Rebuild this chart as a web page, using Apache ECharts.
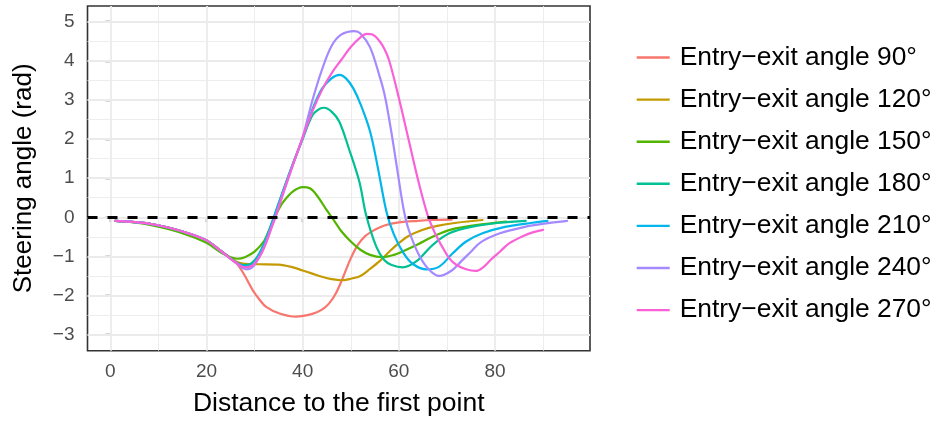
<!DOCTYPE html>
<html><head><meta charset="utf-8">
<script src="https://cdn.jsdelivr.net/npm/echarts@6/dist/echarts.min.js"></script>
<style>html,body{margin:0;padding:0;background:#fff}#c{width:938px;height:424px}</style>
</head><body><div id="c"></div>
<script>
const seriesNames = ['Entry\u2212exit angle 90°','Entry\u2212exit angle 120°','Entry\u2212exit angle 150°','Entry\u2212exit angle 180°','Entry\u2212exit angle 210°','Entry\u2212exit angle 240°','Entry\u2212exit angle 270°'];
const colors = ['#F8766D','#C49A00','#53B400','#00C094','#00B6EB','#A58AFF','#FB61D7'];

const x90 = [1,4,8,12,16,20,23,26,27,28,29.6,31,32.4,35.2,38.6,42,44,45.5,47,48.5,50,51.5,53,55,57,60,64,67,71];
const y90 = [-0.09,-0.11,-0.16,-0.26,-0.4,-0.59,-0.86,-1.14,-1.3,-1.5,-1.86,-2.1,-2.29,-2.46,-2.54,-2.47,-2.36,-2.2,-1.92,-1.5,-1.05,-0.7,-0.48,-0.32,-0.21,-0.13,-0.09,-0.07,-0.06];

const x120 = [1,4,8,12,16,20,23,26,28,31,35,38,40,42,44,46,48,50,52,54,56,58,60,62,65,68,72,77.4];
const y120 = [-0.09,-0.11,-0.16,-0.26,-0.4,-0.59,-0.86,-1.12,-1.19,-1.2,-1.21,-1.28,-1.36,-1.44,-1.52,-1.58,-1.61,-1.57,-1.5,-1.32,-1.12,-0.88,-0.66,-0.48,-0.32,-0.22,-0.14,-0.07];

const x150 = [1,4,8,12,16,20,23,25,26.5,28,30,32,33,34,35,36,38,40,41.5,43,45,46.5,48,50,52,54,56.5,59,61,64,67,71,76,82.3];
const y150 = [-0.09,-0.12,-0.19,-0.3,-0.45,-0.65,-0.9,-1.02,-1.06,-1.02,-0.88,-0.6,-0.33,-0.05,0.2,0.4,0.66,0.77,0.74,0.55,0.18,-0.08,-0.35,-0.62,-0.83,-0.96,-1.02,-0.96,-0.86,-0.69,-0.5,-0.31,-0.2,-0.11];

const x180 = [1,4,8,12,16,20,23,26,27.5,29,30,31,32,33,34,36,38,40,42,43.5,44.5,46,47.6,49.7,51.8,53.2,55.3,57,58.5,60.8,63.6,67,70.5,75.3,80.9,86.4];
const y180 = [-0.09,-0.11,-0.16,-0.26,-0.4,-0.59,-0.86,-1.14,-1.22,-1.2,-1.1,-0.92,-0.66,-0.35,0.0,0.7,1.38,2.0,2.6,2.77,2.8,2.7,2.45,1.72,0.9,0.05,-0.75,-1.1,-1.22,-1.28,-1.13,-0.71,-0.41,-0.24,-0.14,-0.09];

const x210 = [1,4,8,12,16,20,23,26,28,29,30,31,32,33,34,36,38,40,42,44,46,47.7,49,50.5,52,54,55.5,57.5,59,61,63,65.7,68.4,71.2,74,77.4,82.3,87.8,90.9];
const y210 = [-0.09,-0.11,-0.16,-0.26,-0.4,-0.59,-0.86,-1.15,-1.25,-1.25,-1.15,-0.95,-0.68,-0.36,0.0,0.7,1.38,2.02,2.75,3.28,3.55,3.64,3.55,3.3,2.9,2.2,1.35,0.1,-0.45,-0.92,-1.2,-1.33,-1.26,-0.92,-0.62,-0.41,-0.24,-0.14,-0.09];

const x240 = [1,4,8,12,16,20,23,26,28.3,29.5,30.5,31.5,32.5,33.5,34.3,36,38,40,42,44,46,48,50.8,52,54,56,57,58,59,60,61,62,64,66,68.4,71,73,75,77,81,86,91,95];
const y240 = [-0.09,-0.11,-0.16,-0.26,-0.4,-0.59,-0.87,-1.16,-1.33,-1.28,-1.12,-0.9,-0.6,-0.25,0.0,0.62,1.35,2.05,2.98,3.77,4.38,4.67,4.76,4.7,4.35,3.6,3.15,2.5,1.75,0.95,0.2,-0.3,-0.92,-1.3,-1.5,-1.36,-1.12,-0.88,-0.64,-0.41,-0.25,-0.15,-0.09];

const x270 = [1,4,8,12,16,20,23,26,28,29.5,30.5,31.5,32.5,33.5,34.3,36,38,40,42,44,46,48,50,52,53.3,54.5,56,57,58,60,62,64,66,67.5,69,70.5,72,74,76,77.5,79,81,83,86,88,90];
const y270 = [-0.09,-0.11,-0.16,-0.26,-0.4,-0.59,-0.86,-1.15,-1.28,-1.24,-1.1,-0.9,-0.62,-0.28,0.0,0.65,1.35,2.04,2.7,3.25,3.68,4.02,4.35,4.6,4.69,4.67,4.5,4.3,4.0,3.05,2.0,0.95,0.05,-0.4,-0.75,-1.05,-1.22,-1.33,-1.37,-1.28,-1.1,-0.88,-0.66,-0.47,-0.38,-0.32];

const xs = [x90,x120,x150,x180,x210,x240,x270];
const ys = [y90,y120,y150,y180,y210,y240,y270];

const xTicks = [0,20,40,60,80];
const xMinor = [10,30,50,70,90];
const yTicks = [-3,-2,-1,0,1,2,3,4,5];
const yMinor = [-2.5,-1.5,-0.5,0.5,1.5,2.5,3.5,4.5];
const refLine = 0;

const FONT = '"Liberation Sans", Arial, Helvetica, sans-serif';
const GRID = '#EBEBEB';

const gridData = [];
xMinor.forEach(v => gridData.push({xAxis: v, lineStyle: {color: GRID, width: 0.9, type: 'solid'}}));
yMinor.forEach(v => gridData.push({yAxis: v, lineStyle: {color: GRID, width: 0.9, type: 'solid'}}));
xTicks.forEach(v => gridData.push({xAxis: v, lineStyle: {color: GRID, width: 1.8, type: 'solid'}}));
yTicks.forEach(v => gridData.push({yAxis: v, lineStyle: {color: GRID, width: 1.8, type: 'solid'}}));

const series = [{
  type: 'line', data: [], silent: true, z: 1, animation: false,
  markLine: {z: 1, silent: true, symbol: ['none','none'], label: {show: false}, animation: false, data: gridData}
}];
seriesNames.forEach((n, i) => {
  series.push({
    name: n, type: 'line', z: 3, symbol: 'none', smooth: 0.35, animation: false,
    data: xs[i].map((x, j) => [x, ys[i][j]]),
    lineStyle: {width: 2.2, color: colors[i], type: 'solid', cap: 'round', join: 'round'},
    itemStyle: {color: colors[i]}
  });
});
series.push({
  type: 'line', data: [], silent: true, z: 6, animation: false,
  markLine: {z: 6, silent: true, symbol: ['none','none'], label: {show: false}, animation: false,
    data: [{yAxis: refLine, lineStyle: {color: '#000', width: 2.8, type: [10, 10]}}]}
});

const minus = v => String(v).replace('-', '\u2212');

const chart = echarts.init(document.getElementById('c'), null, {renderer: 'canvas'});
chart.setOption({
  animation: false,
  backgroundColor: '#fff',
  textStyle: {fontFamily: FONT},
  grid: {left: 87.5, right: 348, top: 6, bottom: 73.3, show: true, borderColor: '#333333', borderWidth: 1.6, backgroundColor: '#fff', z: 0},
  xAxis: {
    type: 'value', min: -4.75, max: 99.75,
    axisLine: {show: false},
    axisTick: {show: true, length: 5, lineStyle: {color: '#333333', width: 1.4}, customValues: xTicks},
    axisLabel: {customValues: xTicks, formatter: minus, color: '#4D4D4D', fontSize: 19, fontFamily: FONT, margin: 12},
    splitLine: {show: false},
    name: 'Distance to the first point', nameLocation: 'middle', nameGap: 39,
    nameTextStyle: {color: '#000', fontSize: 26.5, fontFamily: FONT}
  },
  yAxis: {
    type: 'value', min: -3.41, max: 5.40,
    axisLine: {show: false},
    axisTick: {show: true, length: 5, lineStyle: {color: '#333333', width: 1.4}, customValues: yTicks},
    axisLabel: {customValues: yTicks, formatter: minus, color: '#4D4D4D', fontSize: 19, fontFamily: FONT, margin: 13},
    splitLine: {show: false},
    name: 'Steering angle (rad)', nameLocation: 'middle', nameGap: 51,
    nameTextStyle: {color: '#000', fontSize: 26, fontFamily: FONT}
  },
  legend: {
    orient: 'vertical', left: 636.7, top: 44.5, padding: 0,
    itemGap: 16.1, itemWidth: 38, itemHeight: 2.4,
    icon: 'path://M0,0L33,0L33,2.4L0,2.4Z M38,0L38,0.01L37.99,0.01Z',
    textStyle: {fontSize: 26.4, color: '#000', fontFamily: FONT, lineHeight: 26},
    data: seriesNames,
    selectedMode: false
  },
  series: series
});
</script></body></html>
